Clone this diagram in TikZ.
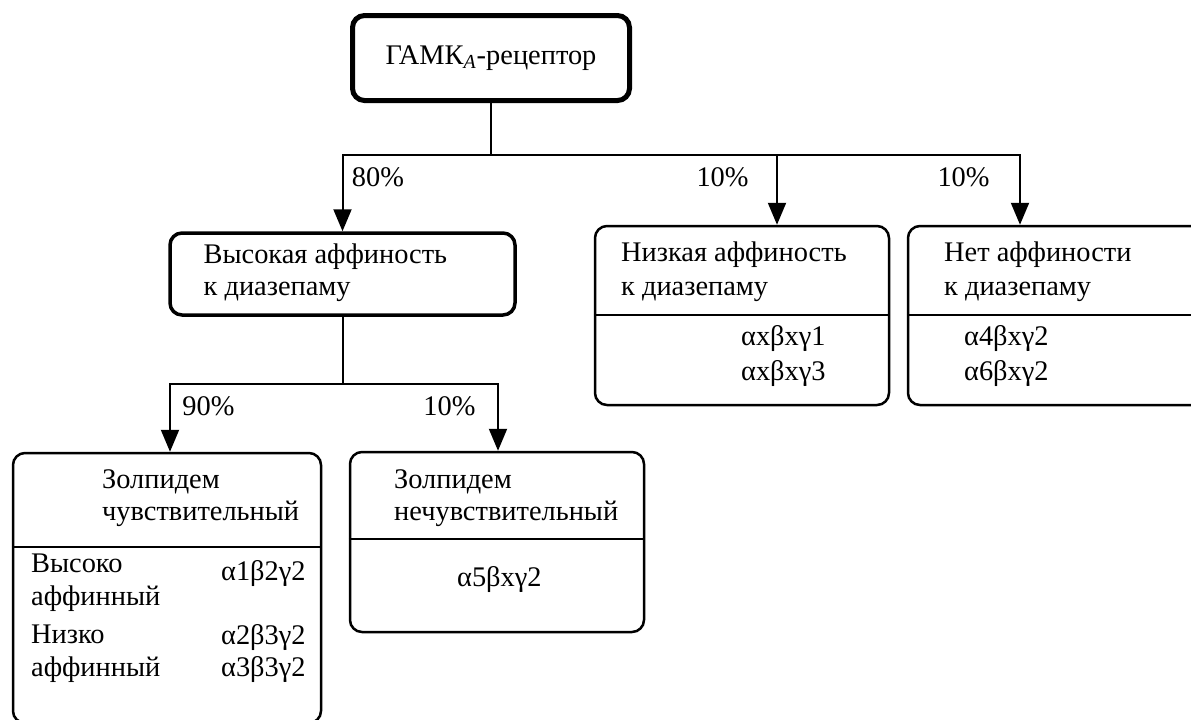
\documentclass[tikz,border=0pt]{standalone}
\usepackage{fontspec}
\setmainfont{Liberation Serif}
\usepackage{tikz}
\usetikzlibrary{positioning,calc,arrows.meta}
\newcommand{\boxfont}{\fontsize{14.2pt}{17pt}\selectfont}

\tikzset{
	recbox/.style={draw, rounded corners=6pt, line width=1.25pt, inner sep=0pt},
	txt/.style={inner sep=0pt, anchor=base west, font=\boxfont},
	pct/.style={inner sep=0pt, font=\boxfont},
	link/.style={line width=1pt},
	arr/.style={line width=1pt, -{Triangle[width=9pt,length=11pt]}},
}

\begin{document}
\begin{tikzpicture}[x=0.5pt, y=-0.5pt]
	\clip (0,0) rectangle (1191,719);
	
	\node[recbox, line width=2.5pt, minimum width=138.5pt, minimum height=42.5pt, font=\boxfont] (gaba) at (491,58) {ГАМК\textsubscript{\itshape A}-рецептор};
	\node[recbox, line width=1.75pt, minimum width=172.5pt, minimum height=41pt] (hibox) at (342.5,274) {};
	\node[recbox, minimum width=147pt, minimum height=89.5pt] (lowbox) at (742,315.5) {};
	\node[recbox, minimum width=151pt, minimum height=89.5pt] (nobox) at (1059,315.5) {};
	\node[recbox, minimum width=154pt, minimum height=135pt] (zsens) at (167,588) {};
	\node[recbox, minimum width=147pt, minimum height=90pt] (zins) at (497,542) {};
	
	% dividers
	\draw[line width=1.25pt] ($(lowbox.north west)+(0,90)$) -- ($(lowbox.north east)+(0,90)$);
	\draw[line width=1.25pt] ($(nobox.north west)+(0,90)$) -- ($(nobox.north east)+(0,90)$);
	\draw[line width=1.25pt] ($(zsens.north west)+(0,95)$) -- ($(zsens.north east)+(0,95)$);
	\draw[line width=1.25pt] ($(zins.north west)+(0,88)$) -- ($(zins.north east)+(0,88)$);
	
	\node[txt] (hi1) at ($(hibox.north west)+(35,32)$) {Высокая аффиность};
	\node[txt] (hi2) at ($(hibox.north west)+(35,64)$) {к диазепаму};
	
	\node[txt] (low1) at ($(lowbox.north west)+(27,37)$) {Низкая аффиность};
	\node[txt] (low2) at ($(lowbox.north west)+(27,71)$) {к диазепаму};
	\node[txt] (low3) at ($(lowbox.north west)+(147,121)$) {αxβxγ1};
	\node[txt] (low4) at ($(lowbox.north west)+(147,156)$) {αxβxγ3};
	
	\node[txt] (no1) at ($(nobox.north west)+(37,37)$) {Нет аффиности};
	\node[txt] (no2) at ($(nobox.north west)+(37,71)$) {к диазепаму};
	\node[txt] (no3) at ($(nobox.north west)+(57,121)$) {α4βxγ2};
	\node[txt] (no4) at ($(nobox.north west)+(57,156)$) {α6βxγ2};
	
	\node[txt] (zs1) at ($(zsens.north west)+(90,37)$) {Золпидем};
	\node[txt] (zs2) at ($(zsens.north west)+(90,69)$) {чувствительный};
	\node[txt] (zs3) at ($(zsens.north west)+(19,121)$) {Высоко};
	\node[txt] (zs4) at ($(zsens.north west)+(19,154)$) {аффинный};
	\node[txt] (zs5) at ($(zsens.north west)+(19,192)$) {Низко};
	\node[txt] (zs6) at ($(zsens.north west)+(19,225)$) {аффинный};
	\node[txt] (zs7) at ($(zsens.north west)+(209,129)$) {α1β2γ2};
	\node[txt] (zs8) at ($(zsens.north west)+(209,193)$) {α2β3γ2};
	\node[txt] (zs9) at ($(zsens.north west)+(209,225)$) {α3β3γ2};
	
	\node[txt] (zi1) at ($(zins.north west)+(45,38)$) {Золпидем};
	\node[txt] (zi2) at ($(zins.north west)+(45,70)$) {нечувствительный};
	\node[txt] (zi3) at ($(zins.north west)+(108,136)$) {α5βxγ2};
	
	\coordinate (fork1) at ($(gaba.south)+(0,52)$);
	\coordinate (fork2) at ($(hibox.south)+(0,67)$);
	
	\draw[link] (gaba.south) -- (fork1);
	\draw[arr] (fork1) -| (hibox.north);
	\draw[arr] (fork1) -| ($(lowbox.north)+(35,0)$);
	\draw[arr] (fork1) -| ($(nobox.north)+(-39,0)$);
	
	\draw[link] (hibox.south) -- (fork2);
	\draw[arr] (fork2) -| ($(zsens.north)+(3,0)$);
	\draw[arr] (fork2) -| ($(zins.north)+(1,0)$);
	
	\node[pct, anchor=base west] (p80) at ($(hibox.north)+(9,-45)$) {80\%};
	\node[pct, anchor=base east] (p10a) at ($(lowbox.north)+(7,-38)$) {10\%};
	\node[pct, anchor=base east] (p10b) at ($(nobox.north)+(-69,-38)$) {10\%};
	\node[pct, anchor=base west] (p90) at ($(zsens.north)+(15,-36)$) {90\%};
	\node[pct, anchor=base west] (p10c) at ($(zins.north)+(-74,-35)$) {10\%};
\end{tikzpicture}
\end{document}
